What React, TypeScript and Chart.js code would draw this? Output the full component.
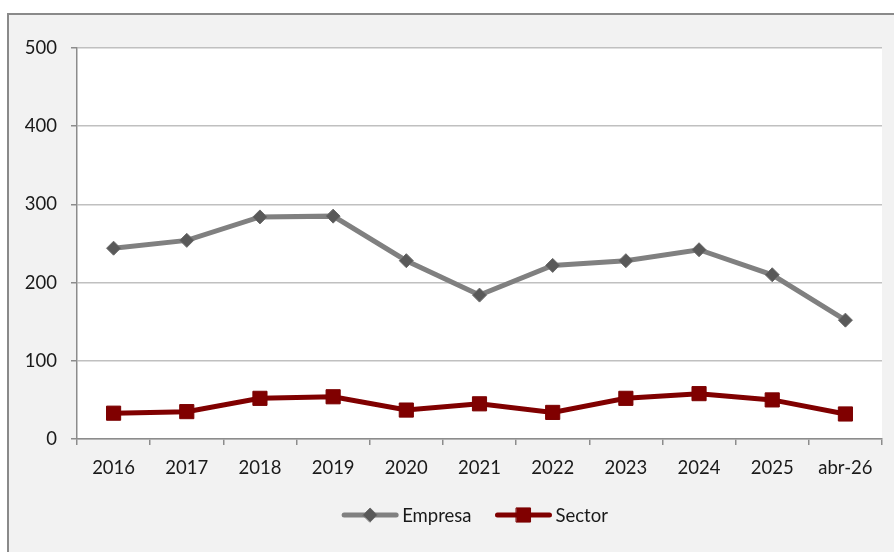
import React, { useEffect, useRef } from "react";
import { Chart, registerables } from "chart.js";

Chart.register(...registerables);

const categories = ["2016", "2017", "2018", "2019", "2020", "2021", "2022", "2023", "2024", "2025", "abr-26"];
const empresaValues = [244, 254, 284, 285, 228, 184, 222, 228, 242, 210, 152];
const sectorValues = [33, 35, 52, 54, 37, 45, 34, 52, 58, 50, 32];
const seriesNames = ["Empresa", "Sector"];
const yTicks = { min: 0, max: 500, step: 100 };

const FONT = "Lato, 'Open Sans', sans-serif";
const FONT_SIZE = 18.5;

const plotBgPlugin = {
  id: "plotBg",
  beforeDraw(chart: any) {
    const { ctx, chartArea } = chart;
    ctx.save();
    ctx.fillStyle = "#ffffff";
    ctx.fillRect(chartArea.left, chartArea.top, chartArea.right - chartArea.left, chartArea.bottom - chartArea.top);
    ctx.restore();
  },
};

const legendPlugin = {
  id: "lineLegend",
  afterDraw(chart: any) {
    const { ctx } = chart;
    const datasets = chart.data.datasets;
    ctx.save();
    ctx.font = `${FONT_SIZE}px ${FONT}`;
    const lineLen = 56;
    const gapText = 4;
    const gapItems = 24;
    const widths = datasets.map((d: any) => lineLen + gapText + ctx.measureText(d.label).width);
    const total = widths.reduce((a: number, b: number) => a + b, 0) + gapItems * (datasets.length - 1);
    const cy = 515;
    let x = 475 - total / 2;
    datasets.forEach((d: any, i: number) => {
      ctx.strokeStyle = d.borderColor;
      ctx.lineWidth = 5;
      ctx.lineCap = "round";
      ctx.beginPath();
      ctx.moveTo(x + 2, cy);
      ctx.lineTo(x + lineLen - 2, cy);
      ctx.stroke();
      const mx = x + lineLen / 2;
      ctx.fillStyle = d.pointBackgroundColor;
      ctx.strokeStyle = d.pointBorderColor;
      ctx.lineWidth = 1;
      ctx.beginPath();
      if (d.pointStyle === "rectRot") {
        const r = d.pointRadius;
        ctx.moveTo(mx - r, cy);
        ctx.lineTo(mx, cy - r);
        ctx.lineTo(mx + r, cy);
        ctx.lineTo(mx, cy + r);
        ctx.closePath();
      } else {
        const s = Math.SQRT1_2 * d.pointRadius;
        ctx.rect(mx - s, cy - s, 2 * s, 2 * s);
      }
      ctx.fill();
      ctx.stroke();
      ctx.fillStyle = "#1a1a1a";
      ctx.textBaseline = "middle";
      ctx.textAlign = "left";
      ctx.fillText(d.label, x + lineLen + gapText, cy + 1);
      x += widths[i] + gapItems;
    });
    ctx.restore();
  },
};

export default function App() {
  const canvasRef = useRef<HTMLCanvasElement | null>(null);

  useEffect(() => {
    if (!canvasRef.current) return;
    const chart = new Chart(canvasRef.current, {
      type: "line",
      data: {
        labels: categories,
        datasets: [
          {
            label: seriesNames[0],
            data: empresaValues,
            borderColor: "#808080",
            borderWidth: 5,
            pointStyle: "rectRot",
            pointRadius: 7,
            pointBackgroundColor: "#595959",
            pointBorderColor: "#6a6a6a",
            pointBorderWidth: 1,
            tension: 0,
          } as any,
          {
            label: seriesNames[1],
            data: sectorValues,
            borderColor: "#800000",
            borderWidth: 5,
            pointStyle: "rect",
            pointRadius: 10,
            pointBackgroundColor: "#800000",
            pointBorderColor: "#7a0000",
            pointBorderWidth: 1,
            tension: 0,
          } as any,
        ],
      },
      options: {
        animation: false,
        responsive: false,
        maintainAspectRatio: false,
        layout: { padding: { left: 0, right: 12, top: 48, bottom: 63 } },
        plugins: {
          legend: { display: false },
          tooltip: { enabled: false },
        },
        scales: {
          x: {
            offset: true,
            grid: {
              offset: true,
              drawOnChartArea: false,
              drawTicks: true,
              tickLength: 6,
              tickColor: "#8c8c8c",
              lineWidth: 1.5,
            },
            border: { display: true, color: "#8c8c8c", width: 1.5 },
            ticks: {
              color: "#1a1a1a",
              font: { family: FONT, size: FONT_SIZE },
              padding: 12,
              maxRotation: 0,
              autoSkip: false,
            },
            afterFit(scale: any) {
              scale.height = 50;
            },
          },
          y: {
            min: yTicks.min,
            max: yTicks.max,
            ticks: {
              stepSize: yTicks.step,
              color: "#1a1a1a",
              font: { family: FONT, size: FONT_SIZE },
              padding: 14,
            },
            grid: {
              color: "#c0c0c0",
              lineWidth: 1.5,
              drawTicks: true,
              tickLength: 6,
              tickColor: "#8c8c8c",
            },
            border: { display: true, color: "#8c8c8c", width: 1.5 },
            afterFit(scale: any) {
              scale.width = 77;
            },
          },
        },
      },
      plugins: [plotBgPlugin, legendPlugin],
    });
    return () => chart.destroy();
  }, []);

  return (
    <div style={{ position: "fixed", left: 0, top: 0, width: 894, height: 552, overflow: "hidden", background: "#ffffff" }}>
      <div
        style={{
          position: "absolute",
          left: 7,
          top: 13,
          width: 940,
          height: 600,
          border: "2px solid #8a8a8a",
          background: "#f2f2f2",
        }}
      />
      <canvas ref={canvasRef} width={894} height={552} style={{ position: "absolute", left: 0, top: 0, width: 894, height: 552 }} />
    </div>
  );
}
